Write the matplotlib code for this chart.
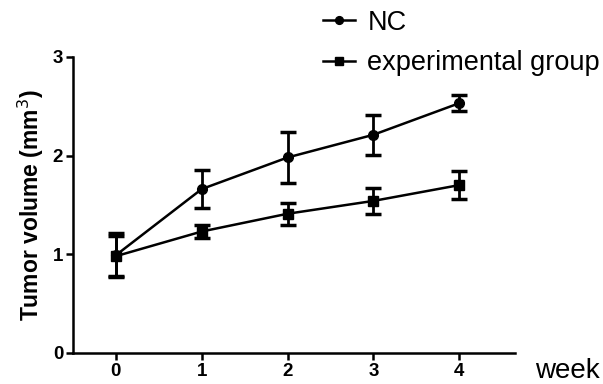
import matplotlib.pyplot as plt

plt.rcParams['font.family'] = ['Liberation Sans', 'DejaVu Sans']

# Data
weeks = [0, 1, 2, 3, 4]
nc_mean = [0.99, 1.66, 1.98, 2.21, 2.53]
nc_err = [0.22, 0.19, 0.26, 0.20, 0.08]
exp_mean = [0.98, 1.23, 1.41, 1.54, 1.70]
exp_err = [0.20, 0.07, 0.11, 0.13, 0.14]
y_ticks = [0, 1, 2, 3]

fig = plt.figure(figsize=(6.03, 3.84), dpi=100)
ax = fig.add_axes([0.121, 0.081, 0.733, 0.771])

ax.errorbar(weeks, nc_mean, yerr=nc_err, color='black', marker='o', markersize=7,
            linewidth=1.8, elinewidth=2, capsize=6, capthick=2.5, label='NC')
ax.errorbar(weeks, exp_mean, yerr=exp_err, color='black', marker='s', markersize=7,
            linewidth=1.8, elinewidth=2, capsize=6, capthick=2.5, label='experimental group')

ax.set_xlim(-0.5, 4.65)
ax.set_ylim(0, 3)
ax.set_xticks(weeks)
ax.set_yticks(y_ticks)
ax.spines['top'].set_visible(False)
ax.spines['right'].set_visible(False)
for s in ['left', 'bottom']:
    ax.spines[s].set_linewidth(1.8)
ax.tick_params(width=1.8, length=5, labelsize=13.5, pad=2)
for lab in ax.get_xticklabels() + ax.get_yticklabels():
    lab.set_fontweight('bold')

ax.set_ylabel('Tumor volume (mm$^3$)', fontsize=16.5, fontweight='bold', labelpad=5)
ax.text(1.045, -0.062, 'week', transform=ax.transAxes, fontsize=20, va='center', ha='left')

handles, labels = ax.get_legend_handles_labels()
handles = [h[0] for h in handles]
fig.legend(handles, labels, loc='upper left', bbox_to_anchor=(0.535, 0.975), frameon=False,
           fontsize=19.5, handlelength=1.2, handletextpad=0.45, labelspacing=0.55,
           borderpad=0, borderaxespad=0, markerscale=0.8)

fig.savefig('out.png', dpi=100)
